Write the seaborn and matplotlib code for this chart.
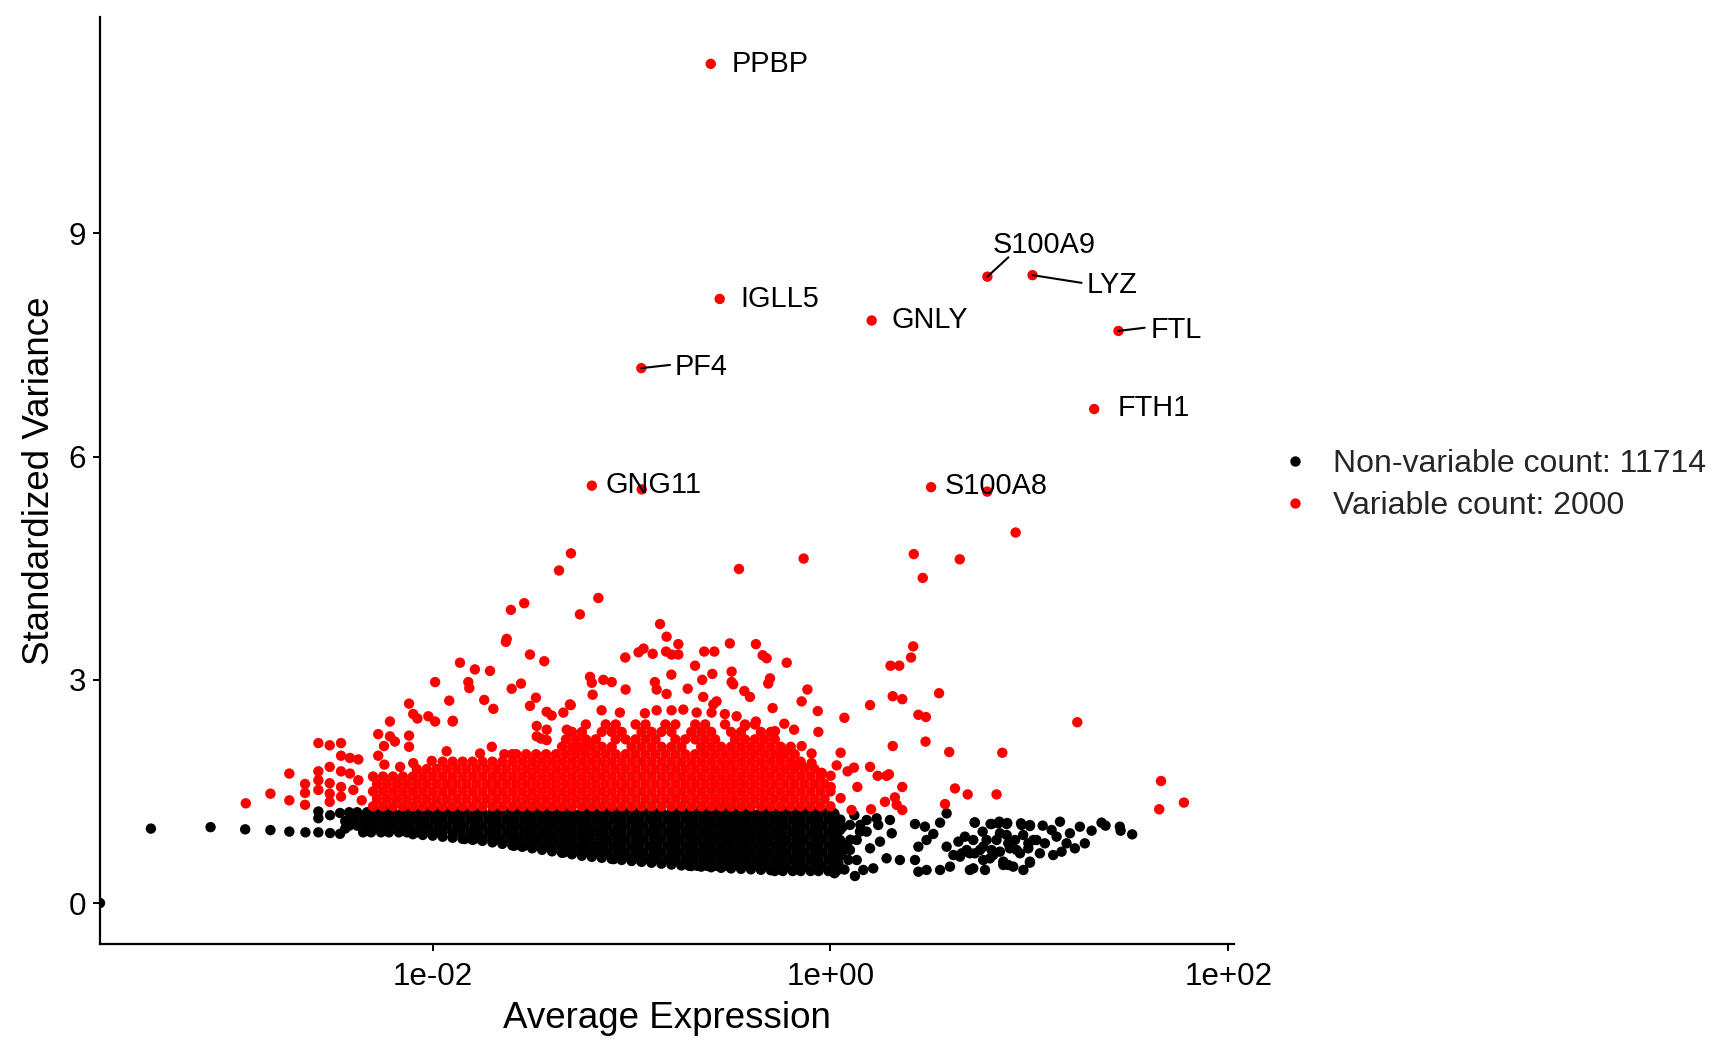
import numpy as np
import pandas as pd
import matplotlib
matplotlib.use("Agg")
import matplotlib.pyplot as plt
import seaborn as sns
from matplotlib.ticker import NullLocator

# ------------------------------------------------------------------ data
status_names = ["Non-variable count: 11714", "Variable count: 2000"]
status_colors = ["black", "red"]

x_tick_values = [1e-2, 1e0, 1e2]
x_tick_labels = ["1e-02", "1e+00", "1e+02"]
y_tick_values = [0, 3, 6, 9]

# labelled top variable genes (log10 average expression, standardized variance)
label_genes = ["PPBP", "IGLL5", "PF4", "GNG11", "GNLY", "S100A9", "LYZ", "FTL", "FTH1", "S100A8"]
label_log10_mean = [-0.602, -0.557, -0.951, -1.200, 0.207, 0.789, 1.016, 1.448, 1.326, 0.506]
label_variance = [11.28, 8.12, 7.19, 5.61, 7.83, 8.42, 8.44, 7.69, 6.64, 5.59]

# non-variable genes: left tail and right sparse part
nonvar_tail_log10_mean = [-3.673, -3.417, -3.117, -2.943, -2.816, -2.721, -2.640, -2.575, -2.575, -2.575,
                          -2.516, -2.516, -2.466, -2.466, -2.440, -2.440]
nonvar_tail_variance = [0.00, 1.00, 1.02, 0.99, 0.98, 0.96, 0.95, 0.95, 1.23, 1.14,
                        0.94, 1.18, 1.21, 0.93, 1.10, 1.00]

nonvar_right_log10_mean = [
    0.584, 0.551, 0.726, 0.810, 0.844, 0.886, 0.961, 1.003, 0.425, 0.475, 0.517, 0.483, 0.442, 0.299,
    0.240, 0.182, 0.132, 0.098, 0.056, 0.308, 0.249, 0.199, 0.282, 0.215, 0.165, 0.123, 0.349, 0.425,
    0.483, 0.442, 0.551, 0.601, 0.584, 0.643, 0.701, 0.618, 0.718, 0.768, 0.818, 0.869, 0.919, 0.970,
    0.660, 0.785, 0.852, 0.894, 0.936, 1.003, 1.020, 0.752, 0.048, 0.098, 0.148, 0.182, 0.232, 0.048,
    0.081, 0.132, 0.725, 0.805, 0.849, 0.889, 0.958, 1.003, 1.067, 1.112, 1.154, 1.204, 1.254, 1.313,
    1.363, 1.383, 1.455, 1.459, 1.517, 0.765, 0.676, 0.718, 0.835, 0.886, 0.928, 0.969, 0.995, 1.036,
    1.078, 1.137, 1.187, 1.229, 1.279, 0.685, 0.726, 0.768, 0.810, 0.852, 0.902, 0.953, 0.995, 1.053,
    1.120, 1.162, 0.701, 0.777, 0.869, 0.894, 1.003, 0.802, 0.651,
    0.02, 0.05, 0.02, 0.06, 0.03, 0.05, 0.02, 0.04, 0.07, 0.02, 0.09, 0.10, 0.12, 0.15]
nonvar_right_variance = [
    1.205, 1.080, 1.080, 1.062, 1.071, 1.062, 1.049, 1.035, 1.062, 1.026, 0.928, 0.847, 0.757, 1.116,
    1.049, 0.959, 0.847, 0.713, 0.645, 0.937, 0.825, 0.735, 0.601, 0.466, 0.444, 0.363, 0.578, 0.578,
    0.444, 0.421, 0.444, 0.489, 0.757, 0.825, 0.668, 0.645, 0.466, 0.578, 0.645, 0.511, 0.489, 0.444,
    0.668, 0.847, 0.937, 0.802, 0.713, 0.556, 0.847, 0.713, 0.980, 1.049, 0.959, 1.116, 1.138, 0.847,
    0.780, 0.578, 1.084, 1.062, 1.093, 1.075, 1.071, 1.048, 1.040, 0.981, 1.093, 0.937, 1.026, 0.972,
    1.080, 1.040, 1.026, 0.972, 0.923, 0.959, 0.892, 0.847, 0.847, 0.914, 0.847, 0.914, 0.802, 0.847,
    0.802, 0.892, 0.802, 0.735, 0.802, 0.712, 0.668, 0.757, 0.712, 0.690, 0.735, 0.668, 0.735, 0.668,
    0.645, 0.690, 0.444, 0.444, 0.556, 0.511, 0.542, 0.600, 0.623,
    1.20, 1.12, 1.06, 1.02, 0.90, 0.72, 0.62, 0.53, 0.45, 0.40, 0.58, 0.85, 1.18, 1.05]

# non-variable genes: lowest genes along the bottom of the dense band
nonvar_edge_log10_mean = [-2.10, -2.05, -2.00, -1.95, -1.90, -1.85, -1.80, -1.75, -1.70, -1.65, -1.60, -1.55,
                          -1.50, -1.45, -1.40, -1.35, -1.30, -1.25, -1.20, -1.15, -1.10, -1.05, -1.00, -0.95,
                          -0.90, -0.85, -0.80, -0.75, -0.70, -0.65, -0.60, -0.55, -0.50, -0.45, -0.40, -0.35,
                          -0.30]
nonvar_edge_variance = [0.925, 0.915, 0.905, 0.891, 0.877, 0.863, 0.849, 0.835, 0.815, 0.795, 0.775, 0.755,
                        0.735, 0.715, 0.695, 0.675, 0.655, 0.635, 0.621, 0.607, 0.593, 0.579, 0.565, 0.553,
                        0.541, 0.529, 0.517, 0.505, 0.497, 0.489, 0.481, 0.473, 0.465, 0.459, 0.453, 0.447,
                        0.441]

# non-variable genes: dense band, read row by row (variance level, log10 means)
nonvar_levels = [1.22, 1.13, 1.04, 0.95, 0.86, 0.77, 0.68, 0.59, 0.50, 0.43]
nonvar_row_122 = [-2.42, -2.38, -2.33, -2.29, -2.24, -2.20, -2.15, -2.11, -2.06, -2.02, -1.97, -1.93, -1.88, -1.84,
                  -1.79, -1.75, -1.70, -1.66, -1.61, -1.57, -1.52, -1.48, -1.43, -1.39, -1.34, -1.30, -1.25, -1.21,
                  -1.16, -1.12, -1.07, -1.03, -0.98, -0.94, -0.89, -0.85, -0.80, -0.76, -0.71, -0.67, -0.62, -0.58,
                  -0.53, -0.49, -0.44, -0.40, -0.35, -0.31, -0.26, -0.22, -0.17, -0.13, -0.08, -0.04, 0.01]
nonvar_row_113 = [-2.40, -2.35, -2.31, -2.26, -2.22, -2.17, -2.13, -2.08, -2.04, -1.99, -1.95, -1.90, -1.86, -1.81,
                  -1.77, -1.72, -1.68, -1.63, -1.59, -1.54, -1.50, -1.45, -1.41, -1.36, -1.32, -1.27, -1.23, -1.18,
                  -1.14, -1.09, -1.05, -1.00, -0.96, -0.91, -0.87, -0.82, -0.78, -0.73, -0.69, -0.64, -0.60, -0.55,
                  -0.51, -0.46, -0.42, -0.37, -0.33, -0.28, -0.24, -0.19, -0.15, -0.10, -0.06, -0.01, 0.03]
nonvar_row_104 = [-2.42, -2.38, -2.33, -2.29, -2.24, -2.20, -2.15, -2.11, -2.06, -2.02, -1.97, -1.93, -1.88, -1.84,
                  -1.79, -1.75, -1.70, -1.66, -1.61, -1.57, -1.52, -1.48, -1.43, -1.39, -1.34, -1.30, -1.25, -1.21,
                  -1.16, -1.12, -1.07, -1.03, -0.98, -0.94, -0.89, -0.85, -0.80, -0.76, -0.71, -0.67, -0.62, -0.58,
                  -0.53, -0.49, -0.44, -0.40, -0.35, -0.31, -0.26, -0.22, -0.17, -0.13, -0.08, -0.04, 0.01]
nonvar_row_095 = [-2.35, -2.31, -2.26, -2.22, -2.17, -2.13, -2.08, -2.04, -1.99, -1.95, -1.90, -1.86, -1.81,
                  -1.77, -1.72, -1.68, -1.63, -1.59, -1.54, -1.50, -1.45, -1.41, -1.36, -1.32, -1.27, -1.23, -1.18,
                  -1.14, -1.09, -1.05, -1.00, -0.96, -0.91, -0.87, -0.82, -0.78, -0.73, -0.69, -0.64, -0.60, -0.55,
                  -0.51, -0.46, -0.42, -0.37, -0.33, -0.28, -0.24, -0.19, -0.15, -0.10, -0.06, -0.01, 0.03]
nonvar_row_086 = [-1.84, -1.79, -1.75, -1.70, -1.66, -1.61, -1.57, -1.52, -1.48, -1.43, -1.39, -1.34, -1.30, -1.25,
                  -1.21, -1.16, -1.12, -1.07, -1.03, -0.98, -0.94, -0.89, -0.85, -0.80, -0.76, -0.71, -0.67, -0.62,
                  -0.58, -0.53, -0.49, -0.44, -0.40, -0.35, -0.31, -0.26, -0.22, -0.17, -0.13, -0.08, -0.04, 0.01]
nonvar_row_077 = [-1.59, -1.54, -1.50, -1.45, -1.41, -1.36, -1.32, -1.27, -1.23, -1.18, -1.14, -1.09, -1.05, -1.00,
                  -0.96, -0.91, -0.87, -0.82, -0.78, -0.73, -0.69, -0.64, -0.60, -0.55, -0.51, -0.46, -0.42, -0.37,
                  -0.33, -0.28, -0.24, -0.19, -0.15, -0.10, -0.06, -0.01, 0.03]
nonvar_row_068 = [-1.34, -1.30, -1.25, -1.21, -1.16, -1.12, -1.07, -1.03, -0.98, -0.94, -0.89, -0.85, -0.80, -0.76,
                  -0.71, -0.67, -0.62, -0.58, -0.53, -0.49, -0.44, -0.40, -0.35, -0.31, -0.26, -0.22, -0.17, -0.13,
                  -0.08, -0.04, 0.01]
nonvar_row_059 = [-1.09, -1.05, -1.00, -0.96, -0.91, -0.87, -0.82, -0.78, -0.73, -0.69, -0.64, -0.60, -0.55, -0.51,
                  -0.46, -0.42, -0.37, -0.33, -0.28, -0.24, -0.19, -0.15, -0.10, -0.06, -0.01, 0.03]
nonvar_row_050 = [-0.71, -0.67, -0.62, -0.58, -0.53, -0.49, -0.44, -0.40, -0.35, -0.31, -0.26, -0.22, -0.17, -0.13,
                  -0.08, -0.04, 0.01]
nonvar_row_043 = [-0.28, -0.24, -0.19, -0.15, -0.10, -0.06, -0.01, 0.03]
nonvar_rows = [nonvar_row_122, nonvar_row_113, nonvar_row_104, nonvar_row_095, nonvar_row_086,
               nonvar_row_077, nonvar_row_068, nonvar_row_059, nonvar_row_050, nonvar_row_043]

# variable genes: dense cloud, read row by row
var_levels = [1.30, 1.40, 1.50, 1.60, 1.70, 1.80, 1.90, 2.00, 2.10, 2.20, 2.30, 2.40]
var_row_130 = [-2.30, -2.25, -2.20, -2.15, -2.10, -2.05, -2.00, -1.95, -1.90, -1.85, -1.80, -1.75, -1.70, -1.65,
               -1.60, -1.55, -1.50, -1.45, -1.40, -1.35, -1.30, -1.25, -1.20, -1.15, -1.10, -1.05, -1.00, -0.95,
               -0.90, -0.85, -0.80, -0.75, -0.70, -0.65, -0.60, -0.55, -0.50, -0.45, -0.40, -0.35, -0.30, -0.25,
               -0.20, -0.15, -0.10, -0.05, 0.00]
var_row_140 = [-2.28, -2.23, -2.18, -2.13, -2.08, -2.03, -1.98, -1.93, -1.88, -1.83, -1.78, -1.73, -1.68, -1.63,
               -1.58, -1.53, -1.48, -1.43, -1.38, -1.33, -1.28, -1.23, -1.18, -1.13, -1.08, -1.03, -0.98, -0.93,
               -0.88, -0.83, -0.78, -0.73, -0.68, -0.63, -0.58, -0.53, -0.48, -0.43, -0.38, -0.33, -0.28, -0.23,
               -0.18, -0.13, -0.08, -0.03]
var_row_150 = [-2.30, -2.25, -2.20, -2.15, -2.10, -2.05, -2.00, -1.95, -1.90, -1.85, -1.80, -1.75, -1.70, -1.65,
               -1.60, -1.55, -1.50, -1.45, -1.40, -1.35, -1.30, -1.25, -1.20, -1.15, -1.10, -1.05, -1.00, -0.95,
               -0.90, -0.85, -0.80, -0.75, -0.70, -0.65, -0.60, -0.55, -0.50, -0.45, -0.40, -0.35, -0.30, -0.25,
               -0.20, -0.15, -0.10, -0.05, 0.00]
var_row_160 = [-2.28, -2.23, -2.18, -2.13, -2.08, -2.03, -1.98, -1.93, -1.88, -1.83, -1.78, -1.73, -1.68, -1.63,
               -1.58, -1.53, -1.48, -1.43, -1.38, -1.33, -1.28, -1.23, -1.18, -1.13, -1.08, -1.03, -0.98, -0.93,
               -0.88, -0.83, -0.78, -0.73, -0.68, -0.63, -0.58, -0.53, -0.48, -0.43, -0.38, -0.33, -0.28, -0.23,
               -0.18, -0.13, -0.08, -0.03]
var_row_170 = [-2.30, -2.25, -2.20, -2.15, -2.10, -2.05, -2.00, -1.95, -1.90, -1.85, -1.80, -1.75, -1.70, -1.65,
               -1.60, -1.55, -1.50, -1.45, -1.40, -1.35, -1.30, -1.25, -1.20, -1.15, -1.10, -1.05, -1.00, -0.95,
               -0.90, -0.85, -0.80, -0.75, -0.70, -0.65, -0.60, -0.55, -0.50, -0.45, -0.40, -0.35, -0.30, -0.25,
               -0.20, -0.15, -0.10, -0.05]
var_row_180 = [-2.08, -2.03, -1.98, -1.93, -1.88, -1.83, -1.78, -1.73, -1.68, -1.63, -1.58, -1.53, -1.48, -1.43,
               -1.38, -1.33, -1.28, -1.23, -1.18, -1.13, -1.08, -1.03, -0.98, -0.93, -0.88, -0.83, -0.78, -0.73,
               -0.68, -0.63, -0.58, -0.53, -0.48, -0.43, -0.38, -0.33, -0.28, -0.23, -0.18, -0.13, -0.08]
var_row_190 = [-1.95, -1.90, -1.85, -1.80, -1.75, -1.70, -1.65, -1.60, -1.55, -1.50, -1.45, -1.40, -1.35, -1.30,
               -1.25, -1.20, -1.15, -1.10, -1.05, -1.00, -0.95, -0.90, -0.85, -0.80, -0.75, -0.70, -0.65, -0.60,
               -0.55, -0.50, -0.45, -0.40, -0.35, -0.30, -0.25, -0.20, -0.15]
var_row_200 = [-1.58, -1.53, -1.48, -1.43, -1.38, -1.33, -1.28, -1.23, -1.18, -1.13, -1.08, -1.03, -0.98, -0.93,
               -0.88, -0.83, -0.78, -0.73, -0.68, -0.63, -0.58, -0.53, -0.48, -0.43, -0.38, -0.33, -0.28, -0.23,
               -0.18]
var_row_210 = [-1.35, -1.30, -1.25, -1.20, -1.15, -1.10, -1.00, -0.95, -0.90, -0.85, -0.80, -0.75, -0.65, -0.60,
               -0.55, -0.50, -0.45, -0.40, -0.35, -0.30, -0.25, -0.20]
var_row_220 = [-1.33, -1.28, -1.23, -1.18, -1.08, -1.03, -0.98, -0.93, -0.88, -0.78, -0.73, -0.68, -0.63, -0.58,
               -0.48, -0.43, -0.38, -0.33, -0.28]
var_row_230 = [-1.30, -1.25, -1.15, -1.10, -1.05, -0.95, -0.90, -0.85, -0.80, -0.70, -0.65, -0.60, -0.50, -0.45,
               -0.35, -0.30]
var_row_240 = [-1.23, -1.13, -1.08, -0.98, -0.93, -0.83, -0.78, -0.68, -0.63, -0.53, -0.43, -0.38]
var_rows = [var_row_130, var_row_140, var_row_150, var_row_160, var_row_170, var_row_180,
            var_row_190, var_row_200, var_row_210, var_row_220, var_row_230, var_row_240]

# variable genes: scattered points around and above the cloud
var_scatter_log10_mean = [
    -0.949, 0.788, 0.931, 0.419, 0.650, 0.464, -0.135, -0.460, -1.305, -1.365, -1.167, -1.260, -1.607, -1.540,
    -1.632, -1.628, -1.511, -1.439, -1.863, -1.788, -1.712, -1.821, -1.816, -1.988, -1.603, -1.556, -1.741, -1.695,
    -1.511, -1.481, -1.917, -1.900, -2.940, -2.816, -2.721, -2.721, -2.642, -2.642, -2.642, -2.575, -2.575, -2.575,
    -2.575, -2.518, -2.518, -2.518, -2.518, -2.518, -2.461, -2.461, -2.461, -2.461, -2.461, -2.416, -2.374, -2.416,
    -2.374, -2.399, -2.357, -2.274, -2.215, -2.245, -2.190, -2.274, -2.243, -2.119, -2.098, -2.077, -2.119, -2.119,
    -2.022, -1.988, -2.164, -2.098, -2.005, -1.930, -1.899, -2.215, -1.306, -1.209, -1.200, -1.196, -1.703, -1.762,
    -1.640, -1.600, -1.427, -1.402, -1.343, -1.310, -1.477, -1.427, -1.477, -1.427, -1.326, -1.276, -1.209, -0.857,
    -0.824, -0.765, -0.940, -0.965, -1.032, -0.894, -0.827, -0.799, -0.765, -0.635, -0.584, -0.506, -0.375, -0.681,
    -0.594, -0.645, -0.497, -0.497, -0.489, -0.433, -0.405, -0.640, -0.573, -0.589, -0.800, -0.883, -0.874, -0.824,
    -0.718, -1.142, -1.100, -1.030, -1.456, -1.151, -1.059, -0.933, -0.874, -0.799, -0.740, -0.673, -0.598, -0.531,
    -0.472, -0.375, -0.341, -0.321, -0.220, 0.416, 0.405, 0.302, 0.346, -0.304, -0.313, -0.116, -0.145, 0.313,
    0.361, 0.546, 0.199, -0.291, -0.064, 0.070, 0.442, 0.480, -0.430, -0.232, -0.183, -0.061, -0.289, -0.279,
    0.478, 0.313, 0.597, 0.864, -0.145, -0.095, -0.207, -0.246, 0.051, -0.195, -0.145, -0.095, 0.031, -0.044,
    0.001, 0.086, 0.118, 0.135, 0.199, 0.237, 0.282, 0.294, 0.361, 0.001, 0.051, 0.106, 0.204, 0.274,
    0.324, 0.333, 0.361, 0.626, 0.690, 0.835, 0.576, 1.241, 1.662, 1.653, 1.777]
var_scatter_variance = [
    5.56, 5.53, 4.98, 4.69, 4.62, 4.37, 4.63, 4.49, 4.70, 4.47, 4.10, 3.88, 3.94, 4.03,
    3.51, 3.55, 3.34, 3.25, 3.23, 3.14, 3.12, 2.97, 2.89, 2.97, 2.88, 2.95, 2.73, 2.61,
    2.65, 2.76, 2.72, 2.44, 1.34, 1.47, 1.74, 1.38, 1.60, 1.48, 1.32, 2.15, 1.77, 1.65,
    1.52, 2.12, 1.83, 1.61, 1.47, 1.36, 2.15, 1.98, 1.77, 1.56, 1.43, 1.95, 1.93, 1.74,
    1.65, 1.52, 1.38, 2.27, 2.44, 2.11, 2.17, 1.98, 1.86, 2.68, 2.54, 2.48, 2.25, 2.10,
    2.51, 2.44, 1.83, 1.88, 1.91, 2.04, 2.45, 2.24, 2.66, 3.04, 2.96, 2.80, 2.10, 2.01,
    2.00, 2.00, 2.57, 2.52, 2.56, 2.67, 2.38, 2.33, 2.24, 2.19, 2.33, 2.10, 2.12, 3.75,
    3.58, 3.48, 3.42, 3.37, 3.30, 3.35, 3.38, 3.34, 3.34, 3.38, 3.38, 3.49, 3.48, 3.19,
    3.08, 3.00, 3.11, 2.97, 2.94, 2.85, 2.77, 2.77, 2.71, 2.67, 3.07, 2.97, 2.87, 2.81,
    2.88, 3.00, 2.97, 2.87, 2.21, 2.59, 2.56, 2.55, 2.59, 2.59, 2.60, 2.56, 2.56, 2.54,
    2.51, 2.44, 3.33, 3.29, 3.23, 3.45, 3.30, 3.19, 3.19, 3.02, 2.95, 2.87, 2.71, 2.78,
    2.74, 2.82, 2.66, 2.62, 2.58, 2.49, 2.53, 2.50, 2.38, 2.41, 2.33, 2.30, 2.28, 2.31,
    2.17, 2.11, 2.03, 2.02, 2.11, 2.01, 2.06, 2.01, 2.02, 1.85, 1.85, 1.88, 1.85, 1.75,
    1.71, 1.77, 1.82, 1.56, 1.83, 1.71, 1.71, 1.73, 1.56, 1.56, 1.41, 1.25, 1.26, 1.36,
    1.42, 1.32, 1.25, 1.54, 1.46, 1.46, 1.33, 2.43, 1.64, 1.26, 1.35]

# ------------------------------------------------------------------ label placement (pixels, not data)
label_text_dx_px = [21.0, 20.9, 33.2, 13.2, 19.9, 5.4, 54.0, 31.8, 23.5, 13.3]
label_text_dy_px = [-8.2, -7.8, -7.1, -7.4, -7.3, 23.9, -18.0, -7.4, -7.0, -7.2]
label_line_end_px = {"PF4": (28.7, 3.2), "S100A9": (21.0, 19.3), "LYZ": (49.0, -7.7), "FTL": (26.2, 3.2)}

# ------------------------------------------------------------------ build table
records = []
for lvl, row in zip(nonvar_levels, nonvar_rows):
    for lx in row:
        records.append((status_names[0], lx, lvl))
for lx, v in zip(nonvar_edge_log10_mean, nonvar_edge_variance):
    records.append((status_names[0], lx, v))
for lx, v in zip(nonvar_tail_log10_mean, nonvar_tail_variance):
    records.append((status_names[0], lx, v))
for lx, v in zip(nonvar_right_log10_mean, nonvar_right_variance):
    records.append((status_names[0], lx, v))
for lvl, row in zip(var_levels, var_rows):
    for lx in row:
        records.append((status_names[1], lx, lvl))
for lx, v in zip(var_scatter_log10_mean, var_scatter_variance):
    records.append((status_names[1], lx, v))
for lx, v in zip(label_log10_mean, label_variance):
    records.append((status_names[1], lx, v))

df = pd.DataFrame(records, columns=["status", "log10_mean", "variance"])
df["mean"] = np.power(10.0, df["log10_mean"])

# ------------------------------------------------------------------ plot
sns.set_style("ticks")
plt.rcParams["font.family"] = ["Liberation Sans", "DejaVu Sans"]
PX = 72.0 / 100.0  # points per pixel at dpi 100

fig = plt.figure(figsize=(17.28, 10.56), dpi=100)
ax = fig.add_axes([100 / 1728, 112 / 1056, (1234 - 100) / 1728, (1039 - 112) / 1056])
ax.set_xscale("log")

sns.scatterplot(data=df, x="mean", y="variance", hue="status", hue_order=status_names,
                palette=dict(zip(status_names, status_colors)), s=56, linewidth=0,
                edgecolor="none", ax=ax)

ax.set_xlim(10 ** -3.673, 10 ** 2.029)
ax.set_ylim(-0.551, 11.91)
ax.set_xticks(x_tick_values)
ax.set_xticklabels(x_tick_labels)
ax.xaxis.set_minor_locator(NullLocator())
ax.set_yticks(y_tick_values)
ax.set_yticklabels([str(v) for v in y_tick_values])

for side in ["top", "right"]:
    ax.spines[side].set_visible(False)
for side in ["left", "bottom"]:
    ax.spines[side].set_linewidth(1.6)
    ax.spines[side].set_color("black")
ax.tick_params(axis="both", which="major", length=5, width=1.4, colors="black",
               labelsize=22.6, labelcolor="black")
ax.tick_params(axis="x", pad=8)
ax.tick_params(axis="y", pad=5)

ax.set_xlabel("Average Expression", fontsize=26.5, color="black", labelpad=6.7)
ax.set_ylabel("Standardized Variance", fontsize=26.5, color="black", labelpad=8)

# gene labels
for name, lx, v, dx, dy in zip(label_genes, label_log10_mean, label_variance,
                               label_text_dx_px, label_text_dy_px):
    xy = (10 ** lx, v)
    if name in label_line_end_px:
        ex, ey = label_line_end_px[name]
        ax.annotate("", xy=xy, xytext=(ex * PX, ey * PX), textcoords="offset points",
                    arrowprops=dict(arrowstyle="-", lw=1.5, color="black", shrinkA=0, shrinkB=0))
    ax.annotate(name, xy=xy, xytext=(dx * PX, dy * PX), textcoords="offset points",
                ha="left", va="baseline", fontsize=20.8, color="black")

# legend
handles, labels = ax.get_legend_handles_labels()
ax.legend(handles, labels, loc="center left", bbox_to_anchor=(1279 / 1728, 571 / 1056),
          bbox_transform=fig.transFigure, frameon=False, fontsize=23, handlelength=1.0,
          handletextpad=0.69, labelspacing=0.37, borderpad=0, borderaxespad=0, markerscale=1.0)

fig.savefig("out.png", dpi=100)
